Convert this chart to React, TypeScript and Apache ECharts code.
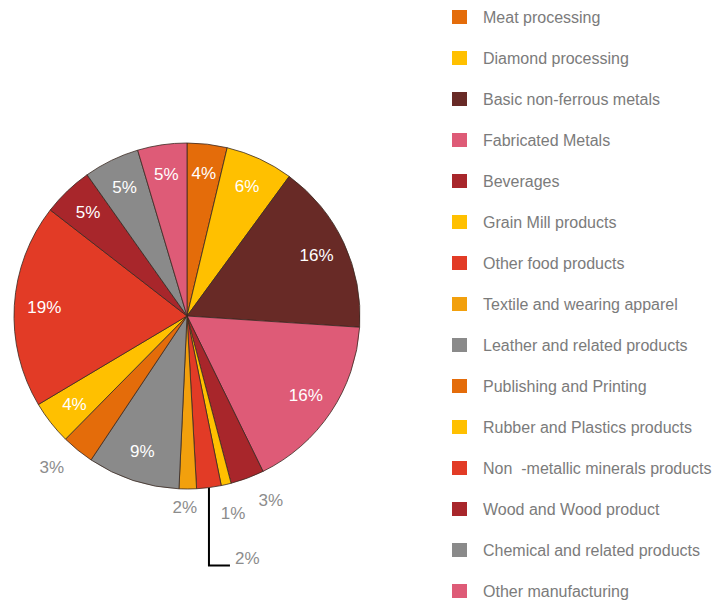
import React, { useEffect, useRef } from "react";
import * as echarts from "echarts";

// ---- data ----
const categories = [
  "Meat processing",
  "Diamond processing",
  "Basic non-ferrous metals",
  "Fabricated Metals",
  "Beverages",
  "Grain Mill products",
  "Other food products",
  "Textile and wearing apparel",
  "Leather and related products",
  "Publishing and Printing",
  "Rubber and Plastics products",
  "Non  -metallic minerals products",
  "Wood and Wood product",
  "Chemical and related products",
  "Other manufacturing",
];

// slice sizes estimated from the drawn angles
const shares = [3.73, 6.33, 15.97, 16.72, 3.14, 0.93, 2.29, 1.62, 8.62, 3.03, 4.06, 19.04, 4.7, 5.2, 4.6];

// percentages printed on the chart
const shownPercents = [4, 6, 16, 16, 3, 1, 2, 2, 9, 3, 4, 19, 5, 5, 5];

// ---- styling ----
const sliceColors = [
  "#E46C0A",
  "#FFC000",
  "#682A26",
  "#DE5B77",
  "#A8262B",
  "#FFC000",
  "#E23B26",
  "#F2A00D",
  "#8A8A8A",
  "#E46C0A",
  "#FFC000",
  "#E23B26",
  "#A8262B",
  "#8A8A8A",
  "#DE5B77",
];

// where each label sits: inside the slice, outside it, or outside with a leader line
const placement = ["in", "in", "in", "in", "out", "out", "leader", "out", "in", "out", "in", "in", "in", "in", "in"];
const outerNudge: Record<number, [number, number]> = { 4: [13, -6], 7: [-3, -11], 9: [-7, -6] };
const LEADER_DROP = 78;
const LEADER_RUN = 21;

export default function App() {
  const ref = useRef<HTMLDivElement>(null);

  useEffect(() => {
    if (!ref.current) return;
    const chart = echarts.init(ref.current, null, { renderer: "svg" });
    const font = "'Liberation Sans', Arial, Helvetica, sans-serif";
    const center = [187, 316];
    const R = 173;
    const fmt = (p: any) => shownPercents[p.dataIndex] + "%";

    const option: any = {
      animation: false,
      backgroundColor: "#ffffff",
      legend: {
        orient: "vertical",
        left: 452,
        top: 9,
        height: 640,
        padding: 0,
        icon: "rect",
        itemWidth: 15,
        itemHeight: 14,
        itemGap: 25,
        selectedMode: false,
        itemStyle: { borderWidth: 0 },
        data: categories,
        textStyle: {
          color: "#7b7b7b",
          fontSize: 16,
          fontFamily: font,
          padding: [0, 0, 0, 11],
        },
      },
      series: [
        {
          type: "pie",
          name: "share",
          center,
          radius: R,
          startAngle: 90,
          clockwise: true,
          avoidLabelOverlap: false,
          emphasis: { disabled: true },
          itemStyle: { borderColor: "#3a2a22", borderWidth: 0.8 },
          label: {
            show: true,
            position: "outside",
            color: "#8c8c8c",
            fontSize: 17,
            fontFamily: font,
            formatter: fmt,
          },
          labelLine: {
            show: false,
            length: LEADER_DROP,
            length2: LEADER_RUN,
            smooth: false,
            lineStyle: { color: "#000000", width: 2 },
          },
          labelLayout: (p: any) => {
            if (placement[p.dataIndex] !== "leader" || !p.labelLinePoints) return {};
            const x0 = p.labelLinePoints[0][0];
            const y0 = p.labelLinePoints[0][1];
            const y1 = y0 + LEADER_DROP;
            const x2 = x0 + LEADER_RUN;
            return {
              x: x2 + 5,
              y: y1 + 1,
              align: "left",
              verticalAlign: "bottom",
              labelLinePoints: [
                [x0, y0],
                [x0, y1],
                [x2, y1],
              ],
            };
          },
          data: categories.map((name, i) => ({
            name,
            value: shares[i],
            itemStyle: { color: sliceColors[i] },
            label: { show: placement[i] === "leader" },
            labelLine: { show: placement[i] === "leader" },
          })),
        },
        {
          type: "pie",
          name: "inner-labels",
          silent: true,
          center,
          radius: [108, 172],
          startAngle: 90,
          clockwise: true,
          avoidLabelOverlap: false,
          emphasis: { disabled: true },
          itemStyle: { color: "rgba(0,0,0,0)", borderWidth: 0 },
          label: {
            show: true,
            position: "inside",
            color: "#ffffff",
            fontSize: 17,
            fontFamily: font,
            formatter: fmt,
          },
          labelLine: { show: false },
          data: categories.map((name, i) => ({
            name,
            value: shares[i],
            label: { show: placement[i] === "in" },
          })),
        },
        {
          type: "pie",
          name: "outer-labels",
          silent: true,
          center,
          radius: [190, 210],
          startAngle: 90,
          clockwise: true,
          avoidLabelOverlap: false,
          emphasis: { disabled: true },
          itemStyle: { color: "rgba(0,0,0,0)", borderWidth: 0 },
          label: {
            show: true,
            position: "inside",
            color: "#8c8c8c",
            fontSize: 17,
            fontFamily: font,
            formatter: fmt,
          },
          labelLine: { show: false },
          labelLayout: (p: any) => {
            const n = outerNudge[p.dataIndex];
            return n ? { dx: n[0], dy: n[1] } : {};
          },
          data: categories.map((name, i) => ({
            name,
            value: shares[i],
            label: { show: placement[i] === "out" },
          })),
        },
      ],
    };

    chart.setOption(option);
    return () => chart.dispose();
  }, []);

  return (
    <div
      ref={ref}
      style={{ position: "fixed", left: 0, top: 0, width: 723, height: 600, background: "#ffffff" }}
    />
  );
}
